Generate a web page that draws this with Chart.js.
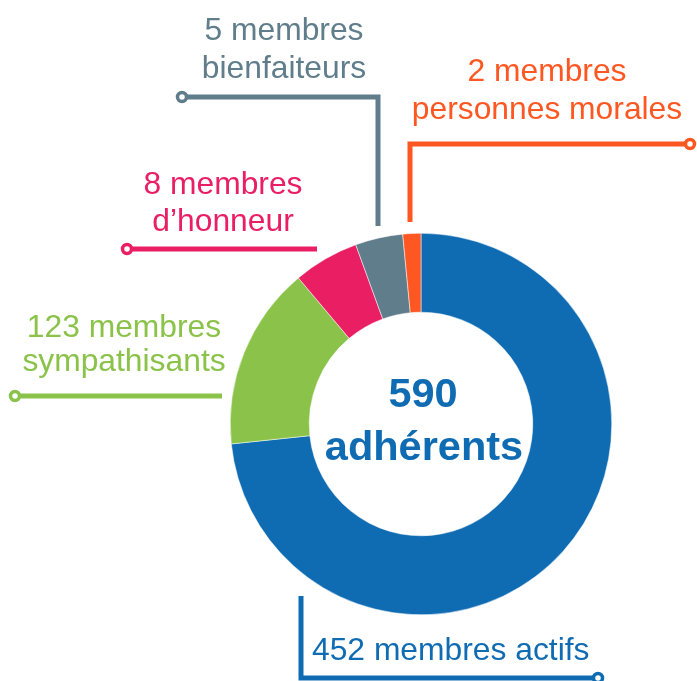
<!DOCTYPE html>
<html>
<head>
<meta charset="utf-8">
<script src="https://cdn.jsdelivr.net/npm/chart.js@4"></script>
<style>
    html, body { margin: 0; padding: 0; background: #fff; }
    #wrap { width: 697px; height: 681px; }
</style>
</head>
<body>
<div id="wrap"><canvas id="membersChart" width="697" height="681"></canvas></div>
<script>
    const categories = ['membres actifs', 'membres sympathisants', "membres d’honneur", 'membres bienfaiteurs', 'membres personnes morales'];
    const memberCounts = [452, 123, 8, 5, 2];
    // slice sizes as drawn in the picture (degrees of arc), not proportional to the counts
    const sliceShares = [264, 56, 20, 14.5, 5.5];
    const labelLines = [
        ['452 membres actifs'],
        ['123 membres', 'sympathisants'],
        ['8 membres', 'd’honneur'],
        ['5 membres', 'bienfaiteurs'],
        ['2 membres', 'personnes morales']
    ];
    const totalMembers = 590;
    const centerLines = [String(totalMembers), 'adhérents'];

    const colors = ['#0f6cb3', '#8bc34a', '#e91e63', '#607d8b', '#ff5722'];

    // leader lines / label placement (layout only)
    const leaders = [
        { pts: [[301, 596], [301, 678], [598, 678]], text: { x: 312, y: [660], align: 'left' } },
        { pts: [[222, 396], [15, 396]], text: { x: 124, y: [337, 371], align: 'center' } },
        { pts: [[317, 249], [127, 249]], text: { x: 223, y: [194, 231], align: 'center' } },
        { pts: [[378, 226], [378, 97], [182, 97]], text: { x: 284, y: [40, 78], align: 'center' } },
        { pts: [[410, 222], [410, 144], [690, 144]], text: { x: 547, y: [81, 119], align: 'center' } }
    ];

    const labelPlugin = {
        id: 'leaderLabels',
        afterDraw(chart) {
            const ctx = chart.ctx;
            ctx.save();
            leaders.forEach(function (l, i) {
                const c = colors[i];
                ctx.strokeStyle = c;
                ctx.lineWidth = 5;
                ctx.lineJoin = 'miter';
                ctx.beginPath();
                ctx.moveTo(l.pts[0][0], l.pts[0][1]);
                for (let k = 1; k < l.pts.length; k++) ctx.lineTo(l.pts[k][0], l.pts[k][1]);
                ctx.stroke();
                const end = l.pts[l.pts.length - 1];
                ctx.beginPath();
                ctx.arc(end[0], end[1], 4.5, 0, Math.PI * 2);
                ctx.fillStyle = '#fff';
                ctx.fill();
                ctx.lineWidth = 3.5;
                ctx.stroke();

                ctx.fillStyle = c;
                ctx.font = '31.8px "Liberation Sans", Arial, sans-serif';
                ctx.textAlign = l.text.align;
                ctx.textBaseline = 'alphabetic';
                labelLines[i].forEach(function (t, j) {
                    ctx.fillText(t, l.text.x, l.text.y[j]);
                });
            });

            ctx.fillStyle = colors[0];
            ctx.font = 'bold 41.5px "Liberation Sans", Arial, sans-serif';
            ctx.textAlign = 'center';
            ctx.fillText(centerLines[0], 423, 407);
            ctx.fillText(centerLines[1], 424, 460);
            ctx.restore();
        }
    };

    const ctx = document.getElementById('membersChart').getContext('2d');

    new Chart(ctx, {
        type: 'doughnut',
        data: {
            labels: categories,
            datasets: [{
                data: sliceShares,
                backgroundColor: colors,
                borderColor: '#ffffff',
                borderWidth: 0.5
            }]
        },
        options: {
            responsive: false,
            animation: false,
            cutout: '58.6%',
            layout: {
                padding: { left: 230, top: 233, right: 85, bottom: 66 }
            },
            plugins: {
                legend: { display: false },
                tooltip: { enabled: false }
            }
        },
        plugins: [labelPlugin]
    });
</script>
</body>
</html>
